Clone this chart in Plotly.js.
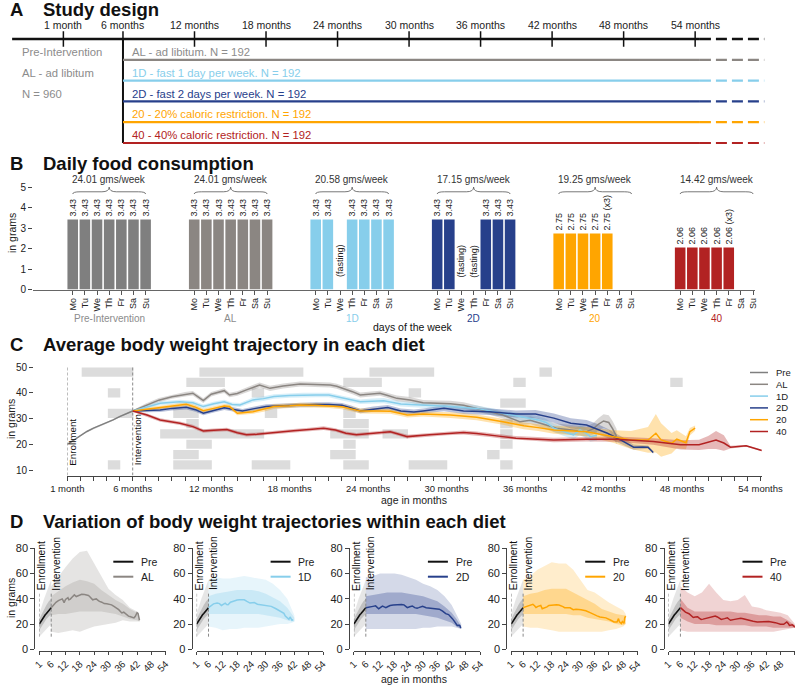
<!DOCTYPE html>
<html><head><meta charset="utf-8">
<script src="https://cdn.plot.ly/plotly-3.0.1.min.js"></script>
<style>html,body{margin:0;padding:0;background:#fff}#chart{width:800px;height:688px}</style>
</head><body><div id="chart"></div>
<script>
// ================= DATA =================
// ---- Panel A: study design ----
const studyTickMonths = [1,6,12,18,24,30,36,42,48,54];
const studyTickLabels = ['1 month','6 months','12 months','18 months','24 months','30 months','36 months','42 months','48 months','54 months'];
const dietCodes = ['AL','1D','2D','20','40'];
const dietColors = ['#8B8682','#87CEEB','#27408B','#FFA500','#B22222'];
const dietTextColors = ['#8C8C8C','#87CEEB','#27408B','#FFA500','#B22222'];
const dietDescriptions = ['AL - ad libitum. N = 192','1D - fast 1 day per week. N = 192','2D - fast 2 days per week. N = 192','20 - 20% caloric restriction. N = 192','40 - 40% caloric restriction. N = 192'];
const preInterventionText = ['Pre-Intervention','AL - ad libitum','N = 960'];
const interventionMonth = 6;
const timelineStartMonth = -3.3;
const timelineSolidEndMonth = 54.4;
const timelineDashEndMonth = 59.8;

// ---- Panel B: daily food consumption ----
const weekDays = ['Mo','Tu','We','Th','Fr','Sa','Su'];
const foodGroups = ['Pre-Intervention','AL','1D','2D','20','40'];
const foodColors = ['#7F7F7F','#8B8682','#87CEEB','#27408B','#FFA500','#B22222'];
const foodLabelColors = ['#8C8C8C','#8C8C8C','#87CEEB','#27408B','#FFA500','#B22222'];
const foodPre = [3.43,3.43,3.43,3.43,3.43,3.43,3.43];
const foodAL  = [3.43,3.43,3.43,3.43,3.43,3.43,3.43];
const food1D  = [3.43,3.43,0,3.43,3.43,3.43,3.43];
const food2D  = [3.43,3.43,0,0,3.43,3.43,3.43];
const food20  = [2.75,2.75,2.75,2.75,2.75,0,0];
const food40  = [2.06,2.06,2.06,2.06,2.06,0,0];
const food20Suffix = ['','','','',' (x3)','',''];
const food40Suffix = ['','','','',' (x3)','',''];
const fasting1D = [0,0,1,0,0,0,0];
const fasting2D = [0,0,1,1,0,0,0];
const weeklyTotals = ['24.01','24.01','20.58','17.15','19.25','14.42'];

// ---- Panel C: average body weight trajectories ----
const ageTickMonths = [1,6,12,18,24,30,36,42,48,54];
const ageTickLabels = ['1 month','6 months','12 months','18 months','24 months','30 months','36 months','42 months','48 months','54 months'];
const trajNames = ['Pre','AL','1D','2D','20','40'];
const trajColors = ['#7F7F7F','#8B8682','#87CEEB','#27408B','#FFA500','#B22222'];
const xPre = [1,1.5,2,2.5,3,3.5,4,4.5,5,5.5,6];
const yPre = [20.0,21.6,23.5,25.0,26.3,27.3,28.4,29.5,30.8,32.0,33.0];
const sePre = [0.3,0.3,0.3,0.3,0.3,0.3,0.3,0.3,0.3,0.3,0.3];
const xAL = [6,7,8,9,10,10.6,11,11.4,12,12.5,13,13.4,14,14.7,15.7,16.5,17.5,18.8,20,21.1,21.6,22.1,22.8,23.4,24.2,24.9,25.5,26.2,27.2,28.2,29.3,30.3,31.3,32.3,33.3,34.3,35,35.6,36.4,37.1,37.8,38.4,39,39.7,40.3,40.7,41.2,41.6,42,42.4,42.7,43];
const yAL = [33,35.2,37.2,38.5,39.5,39.9,38.5,37.0,39.5,40.3,40.9,39.2,39.8,41.2,43.1,41.8,42.7,43.5,43.4,43.1,42.6,41.8,40.5,39.2,39.6,39.9,39.0,37.9,37.3,36.2,36.0,35.8,35.2,34.0,32.8,31.4,30.0,28.8,29.4,28.2,27.2,26.3,26.0,25.6,25.2,24.9,26.0,27.8,29.1,28.5,26.0,23.0];
const seAL = [0.3,0.7,0.8,0.8,0.9,0.9,0.9,0.9,0.9,0.9,0.9,0.9,0.9,0.9,1.0,1.0,1.0,1.0,1.0,1.0,1.0,1.0,1.0,1.0,1.0,1.0,1.0,1.1,1.1,1.1,1.1,1.2,1.2,1.2,1.3,1.3,1.4,1.5,1.5,1.6,1.7,1.8,1.8,1.9,2.0,2.0,2.2,2.4,2.6,2.8,3.0,3.0];
const x1D = [6,7,8.1,9.6,10.6,11.4,12.2,13,13.6,14.2,15.2,16,16.8,18,19,20,21,22.1,23.4,24.3,25.2,26.5,28.2,30.3,32.3,34.3,35.9,37.1,37.6,38.2,39,39.7,40.2,40.6,41,41.5];
const y1D = [33,34.5,36,36.6,36.2,34.7,35.8,36.6,35.5,35.3,37.3,37.8,38.6,39,39.2,39.2,39.2,37.9,36.6,36.8,37,35.7,35.3,34.7,34,32.1,30.5,29.4,28.5,26.3,24.9,23.7,25.6,24.5,23.0,23.5];
const se1D = [0.3,0.7,0.8,0.8,0.8,0.8,0.8,0.8,0.8,0.8,0.9,0.9,0.9,0.9,0.9,0.9,0.9,0.9,0.9,1.0,1.0,1.0,1.0,1.1,1.1,1.2,1.3,1.4,1.5,1.6,1.7,1.8,1.9,2.0,2.0,2.0];
const x2D = [6,7,8.1,9,10.1,10.8,11.4,12.2,13,13.7,14.4,15.3,16.2,17.5,18.8,20,21,22,22.7,23.4,24.4,25.5,26.5,27.5,28.2,29,29.8,31.3,33.3,35.3,36.8,38.2,39.5,40.7,41.5,42.3,43.3,44.3,45,45.4,45.8];
const y2D = [33,33.2,33.4,34,34.4,33.5,32.1,33.2,34.2,33.6,33,33.9,34.7,35,35.3,35.5,35.5,35.2,34.2,33,33.7,34.3,33,32.6,33,33.5,34,33,32.7,31.8,31.8,30.2,28.2,27.5,26,24.3,21.7,18.9,19,18.9,16.8];
const se2D = [0.3,0.7,0.8,0.8,0.8,0.8,0.8,0.8,0.8,0.8,0.8,0.8,0.9,0.9,0.9,0.9,0.9,0.9,0.9,0.9,1.0,1.0,1.0,1.0,1.0,1.1,1.1,1.2,1.3,1.4,1.6,1.8,2.0,2.0,2.0,1.8,1.5,1.0,0.8,0.6,0.5];
const x20 = [6,7,8.1,9,10.1,10.8,11.4,12.2,13,13.4,14,15.2,16,16.8,18,18.8,20,21,22,22.7,23.4,24.5,25.7,27,28.2,30.3,32.3,34.3,35.9,37,38.2,40.7,42.8,44.1,45.4,46,46.4,47.2,47.6,48.3,48.6,49];
const y20 = [33,33.6,34.2,34.9,35.6,34.5,33.1,34,34.9,34.7,32.1,32.7,33.6,34.7,35,35.3,35.2,35,34.6,33.8,33,33,32.9,31.4,31.8,31.4,30.5,28.8,27.2,26.5,25.6,24.9,23,21.7,21.7,24.3,21.7,20.4,22,20.6,24.9,26.3];
const se20 = [0.3,0.7,0.8,0.8,0.8,0.8,0.8,0.8,0.8,0.8,0.8,0.8,0.9,0.9,0.9,0.9,0.9,0.9,0.9,0.9,1.0,1.0,1.0,1.0,1.0,1.1,1.1,1.2,1.3,1.3,1.5,1.8,2.5,3.5,5.0,7.5,6.5,4.0,3.5,2.5,1.5,1.0];
const x40 = [6,7.1,8.1,9.6,10.6,11.4,12.2,13.2,14,14.7,15.5,16.2,17.2,18.3,19.5,20.6,21.5,22.3,23.1,24.5,25.7,26.3,27,28.7,30,31.3,32.3,33.3,34.3,35.3,36.5,38.2,40.7,43,45.8,47.9,49.3,50,50.6,51.2,51.7,52.9,54.1];
const y40 = [33,31.4,29.5,28.2,26.9,25.2,25.5,25.8,24.5,23.7,23.9,24.3,24.8,25.3,25.8,26.3,25.6,24.3,23.7,24.3,24.9,24,23,23.7,24.2,24.6,24.2,23.7,23,22.4,22.2,21.7,22,22,21.1,19.8,19.8,20.7,21.7,20.5,18.9,19.4,17.6];
const se40 = [0.3,0.6,0.7,0.7,0.7,0.7,0.7,0.7,0.7,0.7,0.7,0.7,0.7,0.7,0.7,0.7,0.7,0.7,0.7,0.7,0.7,0.7,0.7,0.7,0.7,0.8,0.8,0.8,0.8,0.8,0.8,0.9,0.9,1.0,1.3,1.8,2.0,2.5,3.5,3.0,0.5,0.3,0.3];
// grey significance boxes: row index (0 = top), first and last month of the block
const sigRow   = [0,0,0,0, 1,1,1,1, 2,2,2, 3, 4,4,4,4, 5,5,5, 6,6,6,6, 7,7,7, 8,8,8, 9,9,9,9,9,9];
const sigStart = [2,11,24,37, 10,22,35,47, 4,15,27, 34, 4,9,16,22, 10,22,34, 8,21,25,34, 10,22,34, 9,21,33, 4,9,15,22,27,34];
const sigEnd   = [6,19,29,38, 13,25,36,48, 5,16,28, 36, 6,11,17,23, 11,24,35, 16,24,27,35, 12,23,35, 11,23,34, 5,12,18,24,30,35];

// ---- Panel D: spread of individual trajectories ----
const preEnvX = [1,2,3,4,5,6];
const preOuterHi = [28,35,40,45,50,55];
const preOuterLo = [10,12,14,16,18,20];
const preInnerHi = [24,28,32,35,38,40];
const preInnerLo = [15,18,21,24,26,28];
const envX_AL = [6,9,12,15,18,21,24,27,30,33,36,39,42,43];
const outerHi_AL = [50,58,65,72,77,78,68,58,48,43,39,33,30,25];
const outerLo_AL = [14,13,14,15,14,16,18,19,20,21,23,22,22,22];
const innerHi_AL = [42,46,50,53,55,54,52,47,43,39,36,32,29,24];
const innerLo_AL = [27,28,28,29,30,30,30,30,29,28,26,24,23,22];
const envX_1D = [6,9,12,15,18,21,24,27,30,33,36,39,41,42];
const outerHi_1D = [55,57,56,56,57,58,57,56,55,52,47,40,32,27];
const outerLo_1D = [18,17,15,16,16,17,17,17,18,19,20,20,21,22];
const innerHi_1D = [42,44,45,46,47,47,47,46,44,41,38,33,28,25];
const innerLo_1D = [28,28,28,28,28,28,28,28,27,26,25,23,22,22];
const envX_2D = [6,9,12,15,18,21,24,27,30,33,36,39,42,44,46];
const outerHi_2D = [57,58,60,60,60,59,57,55,52,50,47,42,35,27,20];
const outerLo_2D = [16,16,16,16,16,16,16,16,17,17,18,18,18,17,16];
const innerHi_2D = [42,43,44,45,45,45,44,43,42,40,38,34,29,24,18];
const innerLo_2D = [28,28,28,28,28,28,28,28,27,26,25,23,21,18,16];
const envX_20 = [6,9,12,15,18,21,24,27,30,33,36,39,42,45,48,49];
const outerHi_20 = [55,58,63,66,69,68,68,63,55,47,45,41,37,34,31,28];
const outerLo_20 = [18,17,17,16,15,14,14,14,14,14,14,14,15,16,18,20];
const innerHi_20 = [42,44,45,47,48,48,48,45,42,39,36,32,30,28,27,27];
const innerLo_20 = [28,28,28,28,28,28,28,27,27,25,24,23,22,20,19,20];
const envX_40 = [6,9,12,15,18,21,24,27,30,33,36,39,42,45,48,51,54];
const outerHi_40 = [50,45,42,45,52,45,39,38,39,43,34,33,31,30,29,27,20];
const outerLo_40 = [15,14,14,14,14,14,14,14,14,14,14,14,14,14,15,16,17];
const innerHi_40 = [40,33,30,30,30,30,30,30,29,29,28,27,27,26,26,23,19];
const innerLo_40 = [25,22,20,20,20,19,19,19,19,19,18,18,18,17,17,17,17];
const dTickMonths = [1,6,12,18,24,30,36,42,48,54];

// ================= BUILD =================
const W = 800, H = 688;
const fx = p => p / W, fy = p => 1 - p / H;
const FONT = '"Liberation Sans", Arial, Helvetica, sans-serif';
const rgba = (hex, a) => { const n = parseInt(hex.slice(1), 16); return `rgba(${(n>>16)&255},${(n>>8)&255},${n&255},${a})`; };
const traces = [], shapes = [], annotations = [];
const ann = (o) => annotations.push(Object.assign({showarrow:false, font:{family:FONT, size:10, color:'#222'}}, o));

// ---------- Panel titles ----------
[['A','Study design',9],['B','Daily food consumption',163.5],['C','Average body weight trajectory in each diet',344.5],['D','Variation of body weight trajectories within each diet',521.5]].forEach(t=>{
  ann({text:'<b>'+t[0]+'</b>', xref:'paper', yref:'paper', x:fx(8), y:fy(t[2]), xanchor:'left', yanchor:'middle', font:{family:FONT,size:18.5,color:'#111'}});
  ann({text:'<b>'+t[1]+'</b>', xref:'paper', yref:'paper', x:fx(40.5), y:fy(t[2]), xanchor:'left', yanchor:'middle', font:{family:FONT,size:18.5,color:'#111'}});
});

// ---------- Panel A ----------
traces.push({type:'scatter', mode:'lines', x:[timelineStartMonth, timelineSolidEndMonth], y:[0,0], xaxis:'x', yaxis:'y', line:{color:'#111', width:2.5}, hoverinfo:'skip'});
traces.push({type:'scatter', mode:'lines', x:[timelineSolidEndMonth, timelineDashEndMonth], y:[0,0], xaxis:'x', yaxis:'y', line:{color:'#111', width:2.5, dash:'11px,5px'}, hoverinfo:'skip'});
traces.push({type:'scatter', mode:'markers', x:studyTickMonths, y:studyTickMonths.map(()=>0), xaxis:'x', yaxis:'y', marker:{symbol:'line-ns-open', size:11, color:'#111', line:{color:'#111', width:1.5}}, hoverinfo:'skip'});
studyTickMonths.forEach((m,i)=>ann({text:studyTickLabels[i], xref:'x', yref:'y', x:m, y:-0.66, xanchor:'center', yanchor:'middle', font:{family:FONT,size:10.5,color:'#222'}}));
traces.push({type:'scatter', mode:'lines', x:[interventionMonth, interventionMonth], y:[0, dietCodes.length], xaxis:'x', yaxis:'y', line:{color:'#111', width:2}, hoverinfo:'skip'});
dietCodes.forEach((d,i)=>{
  const row = i + 1;
  traces.push({type:'scatter', mode:'lines', x:[interventionMonth, timelineSolidEndMonth], y:[row,row], xaxis:'x', yaxis:'y', line:{color:dietColors[i], width:2.2}, hoverinfo:'skip'});
  traces.push({type:'scatter', mode:'lines', x:[timelineSolidEndMonth, timelineDashEndMonth], y:[row,row], xaxis:'x', yaxis:'y', line:{color:dietColors[i], width:2.2, dash:'11px,5px'}, hoverinfo:'skip'});
  ann({text:dietDescriptions[i], xref:'x', yref:'y', x:interventionMonth+0.55, y:row-0.38, xanchor:'left', yanchor:'middle', font:{family:FONT,size:11.3,color:dietTextColors[i]}});
});
preInterventionText.forEach((t,i)=>ann({text:t, xref:'x', yref:'y', x:-2.65, y:i+1-0.38, xanchor:'left', yanchor:'middle', font:{family:FONT,size:11.3,color:'#8C8C8C'}}));

// ---------- Panel B ----------
const foodSeries = [foodPre, foodAL, food1D, food2D, food20, food40];
const foodSuffixes = [null, null, null, null, food20Suffix, food40Suffix];
const foodFasting = [null, null, fasting1D, fasting2D, null, null];
const SLOTS = 10;
const bTickVals = [], bTickText = [];
foodSeries.forEach((vals,g)=>{
  const xs = weekDays.map((d,j)=>g*SLOTS + j);
  xs.forEach((x,j)=>{ bTickVals.push(x); bTickText.push(weekDays[j]); });
  const txt = vals.map((v,j)=> v>0 ? v.toFixed(2) + (foodSuffixes[g] ? foodSuffixes[g][j] : '') : '');
  traces.push({type:'bar', x:xs, y:vals, xaxis:'x2', yaxis:'y2', width:0.87, marker:{color:foodColors[g], line:{width:0}},
    text:txt, textposition:'outside', textangle:-90, constraintext:'none', cliponaxis:false,
    textfont:{family:FONT, size:9, color:'#222'}, hoverinfo:'skip'});
  if (foodFasting[g]) foodFasting[g].forEach((f,j)=>{ if (f) ann({text:'(fasting)', xref:'x2', yref:'y2', x:xs[j], y:0, yshift:10, textangle:-90, xanchor:'center', yanchor:'bottom', font:{family:FONT,size:9,color:'#222'}}); });
  // weekly total with brace
  const xl = xs[0], xr = xs[6], xc = (xl+xr)/2;
  const yb = 4.68, yh = 4.79, yp = 5.02;
  shapes.push({type:'path', xref:'x2', yref:'y2', line:{color:'#555', width:0.8},
    path:`M${xl},${yb} Q${xl},${yh} ${xl+0.6},${yh} L${xc-0.6},${yh} Q${xc},${yh} ${xc},${yp} Q${xc},${yh} ${xc+0.6},${yh} L${xr-0.6},${yh} Q${xr},${yh} ${xr},${yb}`});
  ann({text:weeklyTotals[g]+' gms/week', xref:'x2', yref:'y2', x:xc, y:5.37, xanchor:'center', yanchor:'middle', font:{family:FONT,size:10,color:'#333'}});
  ann({text:foodGroups[g], xref:'x2', yref:'paper', x:xc, y:fy(318.5), xanchor:'center', yanchor:'middle', font:{family:FONT,size:10,color:foodLabelColors[g]}});
});
ann({text:'days of the week', xref:'paper', yref:'paper', x:fx(413), y:fy(327), xanchor:'center', yanchor:'middle', font:{family:FONT,size:10.5,color:'#111'}});
ann({text:'in grams', xref:'paper', yref:'paper', x:fx(12), y:fy(233), textangle:-90, xanchor:'center', yanchor:'middle', font:{family:FONT,size:10.5,color:'#222'}});

// ---------- Panel C ----------
const cX = [xPre, xAL, x1D, x2D, x20, x40];
const cY = [yPre, yAL, y1D, y2D, y20, y40];
const cSE = [sePre, seAL, se1D, se2D, se20, se40];
const C_YMIN = 7.86, C_YMAX = 52.06;
sigRow.forEach((r,i)=>{
  const yc = 48.1 - 4.01*r;
  shapes.push({type:'rect', xref:'x3', yref:'y3', layer:'below', x0:sigStart[i]+0.1, x1:sigEnd[i]+0.05, y0:yc-1.8, y1:yc+1.8, fillcolor:'#DCDCDC', line:{width:0}});
});
[1, interventionMonth].forEach(m=>shapes.push({type:'line', xref:'x3', yref:'y3', x0:m, x1:m, y0:C_YMIN, y1:50, line:{color:'#8a8a8a', width:1, dash:'3px,2px'}}));
ann({text:'Enrollment', xref:'x3', yref:'y3', x:1, y:11, xshift:5.5, textangle:-90, xanchor:'center', yanchor:'bottom', font:{family:FONT,size:9.8,color:'#111'}});
ann({text:'Intervention', xref:'x3', yref:'y3', x:interventionMonth, y:11, xshift:5.5, textangle:-90, xanchor:'center', yanchor:'bottom', font:{family:FONT,size:9.8,color:'#111'}});
cX.forEach((xs,k)=>{
  const up = cY[k].map((v,i)=>v+cSE[k][i]);
  const lo = cY[k].map((v,i)=>v-cSE[k][i]);
  traces.push({type:'scatter', mode:'lines', x:xs.concat(xs.slice().reverse()), y:up.concat(lo.slice().reverse()), fill:'toself', fillcolor:rgba(trajColors[k],0.32), line:{width:0}, xaxis:'x3', yaxis:'y3', hoverinfo:'skip'});
});
cX.forEach((xs,k)=>traces.push({type:'scatter', mode:'lines', x:xs, y:cY[k], line:{color:trajColors[k], width:1.5}, xaxis:'x3', yaxis:'y3', hoverinfo:'skip'}));
trajNames.forEach((n,k)=>{
  const py = 372.5 + 11.8*k;
  shapes.push({type:'line', xref:'paper', yref:'paper', x0:fx(750), x1:fx(768), y0:fy(py), y1:fy(py), line:{color:trajColors[k], width:1.5}});
  ann({text:n, xref:'paper', yref:'paper', x:fx(773.5), y:fy(py), xanchor:'left', yanchor:'middle', font:{family:FONT,size:9.5,color:'#222'}});
});
ann({text:'in grams', xref:'paper', yref:'paper', x:fx(11), y:fy(419), textangle:-90, xanchor:'center', yanchor:'middle', font:{family:FONT,size:10.5,color:'#222'}});
ann({text:'age in months', xref:'paper', yref:'paper', x:fx(414), y:fy(499.5), xanchor:'center', yanchor:'middle', font:{family:FONT,size:10.5,color:'#222'}});
const cTickVals = [], cTickText = [];
for (let m = ageTickMonths[0]; m <= ageTickMonths[ageTickMonths.length-1]; m++) { cTickVals.push(m); const j = ageTickMonths.indexOf(m); cTickText.push(j >= 0 ? ageTickLabels[j] : ''); }

// ---------- Panel D ----------
const dEnvX = [envX_AL, envX_1D, envX_2D, envX_20, envX_40];
const dOuterHi = [outerHi_AL, outerHi_1D, outerHi_2D, outerHi_20, outerHi_40];
const dOuterLo = [outerLo_AL, outerLo_1D, outerLo_2D, outerLo_20, outerLo_40];
const dInnerHi = [innerHi_AL, innerHi_1D, innerHi_2D, innerHi_20, innerHi_40];
const dInnerLo = [innerLo_AL, innerLo_1D, innerLo_2D, innerLo_20, innerLo_40];
const dCloudColors = ['#A9A5A1','#87CEEB','#27408B','#FFA500','#B22222'];
const band = (x, hi, lo, color, op, xa, ya) => ({type:'scatter', mode:'lines', x:x.concat(x.slice().reverse()), y:hi.concat(lo.slice().reverse()), fill:'toself', fillcolor:rgba(color,op), line:{width:0}, xaxis:xa, yaxis:ya, hoverinfo:'skip'});
const layoutD = {};
dietCodes.forEach((d,i)=>{
  const xa = 'x'+(4+i), ya = 'y'+(4+i);
  const off = 157.3*i;
  traces.push(band(preEnvX, preOuterHi, preOuterLo, '#8c8c8c', 0.22, xa, ya));
  traces.push(band(preEnvX, preInnerHi, preInnerLo, '#6c6c6c', 0.3, xa, ya));
  traces.push(band(dEnvX[i], dOuterHi[i], dOuterLo[i], dCloudColors[i], i===0?0.3:0.2, xa, ya));
  traces.push(band(dEnvX[i], dInnerHi[i], dInnerLo[i], dCloudColors[i], i===0?0.35:0.3, xa, ya));
  traces.push({type:'scatter', mode:'lines', x:xPre, y:yPre, line:{color:'#111', width:1.6}, xaxis:xa, yaxis:ya, hoverinfo:'skip'});
  traces.push({type:'scatter', mode:'lines', x:cX[i+1], y:cY[i+1], line:{color:dietColors[i], width:1.5}, xaxis:xa, yaxis:ya, hoverinfo:'skip'});
  [1, interventionMonth].forEach(m=>shapes.push({type:'line', xref:xa, yref:ya, x0:m, x1:m, y0:10, y1:45, line:{color:'#8a8a8a', width:1, dash:'3px,2px'}}));
  ann({text:'Enrollment', xref:xa, yref:ya, x:1, y:45, xshift:3, textangle:-90, xanchor:'center', yanchor:'bottom', font:{family:FONT,size:10.3,color:'#111'}});
  ann({text:'Intervention', xref:xa, yref:ya, x:interventionMonth, y:45, xshift:5, textangle:-90, xanchor:'center', yanchor:'bottom', font:{family:FONT,size:10.3,color:'#111'}});
  // legend
  [['Pre','#111',561.7],[d, dietColors[i], 576.7]].forEach(L=>{
    shapes.push({type:'line', xref:'paper', yref:'paper', x0:fx(113.3+off), x1:fx(133.3+off), y0:fy(L[2]), y1:fy(L[2]), line:{color:L[1], width:2}});
    ann({text:L[0], xref:'paper', yref:'paper', x:fx(139+off), y:fy(L[2]), xanchor:'left', yanchor:'middle', font:{family:FONT,size:10.5,color:'#222'}});
  });
  layoutD['xaxis'+(4+i)] = {domain:[fx(39.3+off), fx(165.7+off)], range:[1,54], anchor:'free', position:fy(650.5), showgrid:false, zeroline:false,
    showline:true, linecolor:'#444', linewidth:1, ticks:'outside', ticklen:3, tickcolor:'#444', tickvals:dTickMonths, ticktext:dTickMonths.map(String), tickangle:-45,
    tickfont:{family:FONT,size:9.8,color:'#222'}};
  layoutD['yaxis'+(4+i)] = {domain:[fy(649.3), fy(548.3)], range:[0,80], anchor:'free', position:fx(34.3+off), showgrid:false, zeroline:false,
    showline:true, linecolor:'#444', linewidth:1, ticks:'outside', ticklen:4, tickcolor:'#444', tickvals:[0,20,40,60,80],
    tickfont:{family:FONT,size:11,color:'#222'}};
});
ann({text:'in grams', xref:'paper', yref:'paper', x:fx(11), y:fy(598), textangle:-90, xanchor:'center', yanchor:'middle', font:{family:FONT,size:10.5,color:'#222'}});
ann({text:'age in months', xref:'paper', yref:'paper', x:fx(414), y:fy(678.5), xanchor:'center', yanchor:'middle', font:{family:FONT,size:10.5,color:'#222'}});

traces.forEach(t=>t.showlegend=false);

const layout = Object.assign({
  width:W, height:H, margin:{l:0,r:0,t:0,b:0}, paper_bgcolor:'#fff', plot_bgcolor:'rgba(0,0,0,0)',
  font:{family:FONT, size:10, color:'#222'}, showlegend:false, barmode:'overlay',
  xaxis:{domain:[fx(12), fx(765)], range:[-3.31, 59.86], visible:false, fixedrange:true},
  yaxis:{domain:[fy(163.8), fy(18.2)], range:[6,-1], visible:false, fixedrange:true},
  xaxis2:{domain:[fx(33), fx(755)], range:[-3.27, 56.16], anchor:'y2', showgrid:false, zeroline:false, showline:true, linecolor:'#666', linewidth:1,
    ticks:'outside', ticklen:4, tickcolor:'#555', tickvals:bTickVals, ticktext:bTickText, tickangle:-90, tickfont:{family:FONT,size:9,color:'#222'}},
  yaxis2:{domain:[fy(289.5), fy(175)], range:[0,5.613], anchor:'x2', showgrid:false, zeroline:false, showline:false,
    ticks:'outside', ticklen:4, tickcolor:'#444', tickvals:[0,1,2,3,4,5], tickfont:{family:FONT,size:10,color:'#222'}},
  xaxis3:{domain:[fx(67.3), fx(761.8)], range:[1,54.1], anchor:'y3', showgrid:false, zeroline:false, showline:true, linecolor:'#444', linewidth:1,
    ticks:'outside', ticklen:4, tickcolor:'#444', tickvals:cTickVals, ticktext:cTickText, tickangle:0, tickfont:{family:FONT,size:9.5,color:'#222'}},
  yaxis3:{domain:[fy(475.5), fy(362)], range:[C_YMIN, C_YMAX], anchor:'free', position:fx(33), showgrid:false, zeroline:false, showline:false,
    ticks:'outside', ticklen:4, tickcolor:'#444', tickvals:[10,20,30,40,50], tickfont:{family:FONT,size:10,color:'#222'}},
  shapes:shapes, annotations:annotations
}, layoutD);

Plotly.newPlot('chart', traces, layout, {staticPlot:true, displayModeBar:false});
</script>
</body></html>
